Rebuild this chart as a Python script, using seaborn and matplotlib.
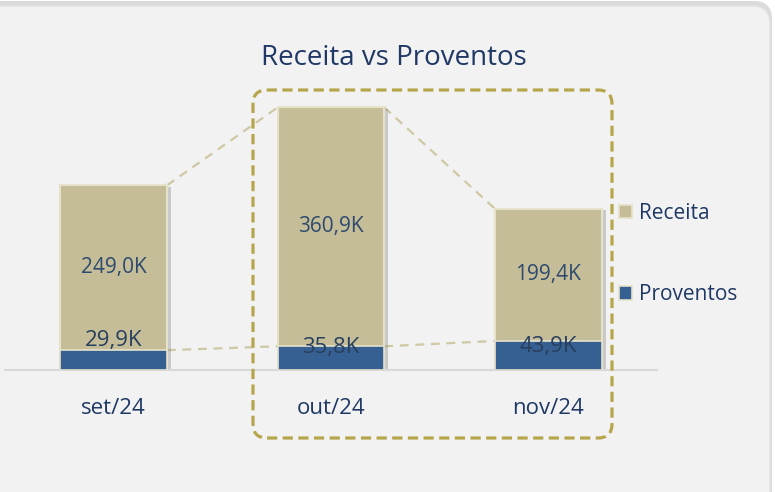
import numpy as np
import pandas as pd
import matplotlib
matplotlib.use("Agg")
import matplotlib.pyplot as plt
import matplotlib.patheffects as pe
from matplotlib.patches import FancyBboxPatch, Patch
from matplotlib.transforms import IdentityTransform
import seaborn as sns

# data (values in thousands)
meses = ["set/24", "out/24", "nov/24"]
receita = [249.0, 360.9, 199.4]
proventos = [29.9, 35.8, 43.9]
rotulos_receita = ["249,0K", "360,9K", "199,4K"]
rotulos_proventos = ["29,9K", "35,8K", "43,9K"]

sns.set_theme(style="white")
plt.rcParams['font.family'] = ['Open Sans', 'DejaVu Sans']

COR_REC = "#c4bd97"
COR_PROV = "#366092"
COR_BORDA = "#e6e1c9"
COR_TXT = "#1f3864"
COR_LBL = "#2e4a6e"

df = pd.DataFrame({"mes": meses, "receita": receita, "proventos": proventos})
df["total"] = df["receita"] + df["proventos"]

fig = plt.figure(figsize=(7.75, 4.92), dpi=100)
fig.patch.set_facecolor("white")

# card background with a soft shadow
sombra = FancyBboxPatch((-20, -30), 792, 521, boxstyle="round,pad=0,rounding_size=18",
                        transform=IdentityTransform(), facecolor="#cccccc", edgecolor="none",
                        alpha=0.7, zorder=-3)
card = FancyBboxPatch((-20, -30), 790, 516, boxstyle="round,pad=0,rounding_size=18",
                      transform=IdentityTransform(), facecolor="#f2f2f2", edgecolor="#e2e2e2",
                      linewidth=1, zorder=-2)
fig.add_artist(sombra)
fig.add_artist(card)

ax = fig.add_axes([5 / 775, 122 / 492, 652 / 775, 270 / 492])
ax.set_facecolor("none")

w = 0.49
sns.barplot(data=df, x="mes", y="total", color=COR_REC, width=w, saturation=1,
            edgecolor=COR_BORDA, linewidth=1.5, ax=ax, zorder=2)
for p in ax.patches:
    p.set_path_effects([pe.SimplePatchShadow(offset=(3, -1), shadow_rgbFace="#7f7f7f", alpha=0.35),
                        pe.Normal()])
sns.barplot(data=df, x="mes", y="proventos", color=COR_PROV, width=w, saturation=1,
            edgecolor=COR_BORDA, linewidth=1.2, ax=ax, zorder=3)

# series lines between bars
for serie in ["total", "proventos"]:
    vals = df[serie].values
    for i in range(len(vals) - 1):
        ax.plot([i + w / 2, i + 1 - w / 2], [vals[i], vals[i + 1]], color="#cfc8a4",
                lw=1.6, linestyle=(0, (4, 3)), zorder=1)

# labels
for i in range(len(df)):
    ymid = df["proventos"][i] + df["receita"][i] / 2
    ax.text(i, ymid, rotulos_receita[i], ha="center", va="center", fontsize=15,
            color=COR_LBL, zorder=5)
desloc = [10, -1, -6]  # pixel offsets of the Proventos labels
for i in range(len(df)):
    ax.annotate(rotulos_proventos[i], (i, df["proventos"][i]), xytext=(0, desloc[i] * 0.72),
                textcoords="offset points", ha="center", va="center", fontsize=16,
                color="#283f5e", zorder=5)

ax.set_xlim(-0.5, 2.5)
ax.set_ylim(0, 407.8)
ax.set_xlabel("")
ax.set_ylabel("")
ax.set_yticks([])
ax.tick_params(axis="x", length=0, pad=20, labelsize=16, labelcolor=COR_TXT)
for s in ["top", "left", "right"]:
    ax.spines[s].set_visible(False)
ax.spines["bottom"].set_color("#d9d9d9")
ax.spines["bottom"].set_linewidth(1.5)

fig.text(394 / 775, 1 - 58 / 492, "Receita vs Proventos", ha="center", va="center",
         fontsize=20, color=COR_TXT)

# dashed highlight box
caixa = FancyBboxPatch((253, 492 - 438), 359, 348, boxstyle="round,pad=0,rounding_size=14",
                       transform=IdentityTransform(), facecolor="none", edgecolor="#b5a64b",
                       linewidth=2.3, linestyle=(0, (3.2, 1.7)), zorder=10)
fig.add_artist(caixa)

# legend
handles = [Patch(facecolor=COR_REC, edgecolor=COR_BORDA, linewidth=1.2),
           Patch(facecolor=COR_PROV, edgecolor=COR_BORDA, linewidth=1.2)]
fig.legend(handles, ["Receita", "Proventos"], loc="upper left",
           bbox_to_anchor=(619 / 775, 1 - 203 / 492), frameon=False,
           handlelength=0.6, handleheight=0.6, handletextpad=0.35,
           labelspacing=2.9, borderaxespad=0, borderpad=0, fontsize=15,
           labelcolor=COR_TXT)

fig.savefig("out.png", dpi=100, facecolor=fig.get_facecolor())
